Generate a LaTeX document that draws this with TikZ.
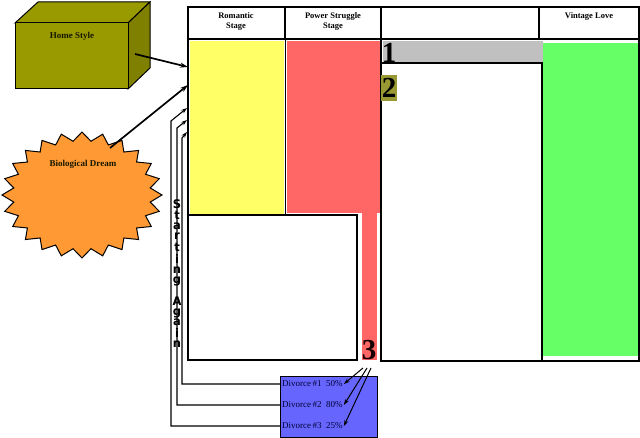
\documentclass[tikz,border=0pt]{standalone}
\usepackage{fontspec}
\usepackage{graphicx}
\setmainfont{Liberation Serif}
\newfontfamily\heavyfont{DejaVu Sans}
\usetikzlibrary{arrows.meta}
\definecolor{olivebox}{HTML}{999900}
\definecolor{oliveside}{HTML}{7F7F00}
\definecolor{olivenum}{HTML}{999933}
\definecolor{romyellow}{HTML}{FFFF66}
\definecolor{powpink}{HTML}{FF6666}
\definecolor{vintgreen}{HTML}{66FF66}
\definecolor{bargrey}{HTML}{C0C0C0}
\definecolor{divblue}{HTML}{6666FF}
\definecolor{burst}{HTML}{FF9933}
\begin{document}
\begin{tikzpicture}[x=1pt,y=-1pt,line join=miter,
  frame/.style={draw=black,line width=1.3pt},
  hdr/.style={font=\fontsize{8.5}{10}\selectfont\bfseries,align=center,anchor=north,inner sep=0pt},
  lbl/.style={font=\fontsize{9}{10}\selectfont\bfseries,inner sep=0pt,text=black!85!olivebox},
  bignum/.style={font=\fontsize{29}{29}\selectfont\bfseries,inner sep=0pt},
  bigarr/.style={-{Stealth[length=8pt,width=5pt]},line width=1.7pt},
  backarr/.style={-{Stealth[length=6pt,width=4pt]},line width=1.1pt},
  numarr/.style={-{Stealth[length=6pt,width=4pt]},line width=1pt},
  divtxt/.style={font=\fontsize{9}{10}\selectfont,anchor=west,inner sep=1pt,text=black!80!blue}]
\fill[white] (0,0) rectangle (640,438);
\useasboundingbox (0,0) rectangle (640,438);

% ---- fills of the table ----
\fill[romyellow] (190,41) rectangle (284,215);
\fill[powpink] (287,41) rectangle (380,213);
\fill[powpink] (362,213) rectangle (377,360);
\fill[bargrey] (383,41) rectangle (543,63);
\fill[vintgreen] (543,43) rectangle (638,356);

% ---- table lines ----
\draw[frame] (188,7) rectangle (639,39);
\draw[frame] (285,7) -- (285,39);
\draw[frame] (381,7) -- (381,39);
\draw[frame] (539,7) -- (539,39);
\draw[frame] (188,39) -- (188,360);
\draw[line width=0.9pt] (285,39) -- (285,214);
\draw[frame] (188,215) rectangle (357,360);
\draw[frame] (381,39) -- (381,361) -- (639,361) -- (639,39);
\draw[frame] (381,63) rectangle (542,361);

% ---- header texts ----
\node[hdr] (hrom) at (236,12) {Romantic\\Stage};
\node[hdr] (hpow) at (333,12) {Power Struggle\\Stage};
\node[hdr] (hvin) at (589,12) {Vintage Love};

% ---- numbers ----
\node[bignum] (one) at (389,53) {1};
\node[bignum,fill=olivenum,minimum width=16pt,minimum height=26pt] (two) at (389,88) {2};
\node[bignum,text=black!90!red] (three) at (369,350) {3};

% ---- Home Style cuboid ----
\filldraw[fill=olivebox,draw=black,line width=1pt] (15,23) -- (38,2) -- (150,2) -- (128,23) -- cycle;
\filldraw[fill=oliveside,draw=black,line width=1pt] (128,23) -- (150,2) -- (150,68) -- (128,89) -- cycle;
\filldraw[fill=olivebox,draw=black,line width=1pt] (15,23) rectangle (128,89);
\node[lbl] (home) at (72,36) {Home Style};

% ---- Biological Dream starburst ----
\filldraw[fill=burst,draw=black,line width=1pt]
  plot[domain=0:47,samples=48] ({82+80*(1-0.14*mod(\x,2))*cos(\x*7.5)},{195+63*(1-0.14*mod(\x,2))*sin(\x*7.5)}) -- cycle;
\node[lbl] (bio) at (83,164) {Biological Dream};

% ---- arrows into Romantic Stage ----
\coordinate (homeout) at (135,54);
\coordinate (romA) at (188,67);
\coordinate (bioout) at (110,148);
\coordinate (romB) at (188,85);
\draw[bigarr] (homeout) -- (romA);
\draw[bigarr] (bioout) -- (romB);

% ---- Divorce box ----
\filldraw[fill=divblue,draw=black,line width=0.8pt] (280,376) rectangle (377,437);
\node[divtxt] (d1) at (281,384) {Divorce\,\#1\ \ 50\%};
\node[divtxt] (d2) at (281,405) {Divorce\,\#2\ \ 80\%};
\node[divtxt] (d3) at (281,426) {Divorce\,\#3\ \ 25\%};

% ---- arrows from 3 ----
\coordinate (t1) at (363,368);
\coordinate (t2) at (367,368);
\coordinate (t3) at (371,368);
\draw[numarr] (t1) -- (d1.east);
\draw[numarr] (t2) -- (d2.east);
\draw[numarr] (t3) -- (d3.east);

% ---- Starting Again feedback lines ----
\coordinate (r1) at (187,108);
\coordinate (r2) at (187,120);
\coordinate (r3) at (187,132);
\coordinate (b1) at (182,138);
\coordinate (b2) at (177,128);
\coordinate (b3) at (171,121);
\draw[backarr] (d1.west) -- (182,384) -- (b1) -- (r3);
\draw[backarr] (d2.west) -- (177,405) -- (b2) -- (r2);
\draw[backarr] (d3.west) -- (171,426) -- (b3) -- (r1);

\node[inner sep=0pt] (again) at (177,275)
  {\scalebox{1.35}[1.4]{\heavyfont\bfseries\fontsize{8.5}{7.2}\selectfont
   \begin{tabular}{@{}c@{}}S\\t\\a\\r\\t\\i\\n\\g\\\mbox{}\\A\\g\\a\\i\\n\end{tabular}}};
\end{tikzpicture}
\end{document}
